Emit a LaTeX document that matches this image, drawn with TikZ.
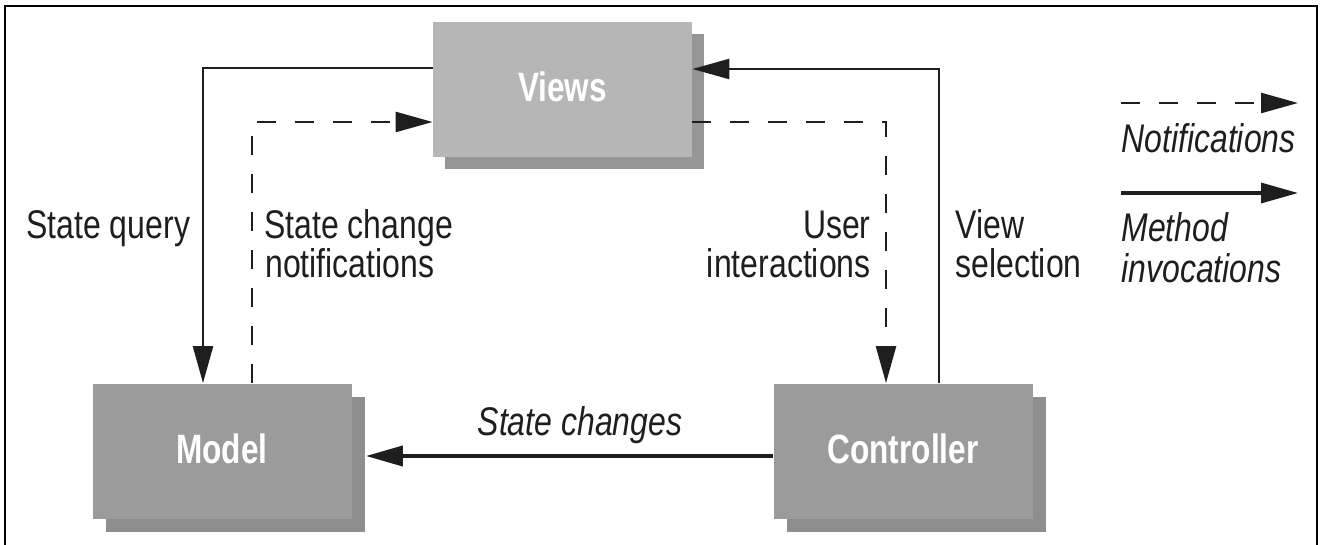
\documentclass[tikz,border=0pt]{standalone}
\usepackage{fontspec}
\setmainfont{Liberation Sans}[FakeStretch=0.8]
\newfontfamily\boxfont{Liberation Sans}[FakeStretch=0.77]
\usetikzlibrary{arrows.meta,shadows}
\definecolor{viewsfill}{HTML}{B6B6B6}
\definecolor{viewsshade}{HTML}{969696}
\definecolor{mainfill}{HTML}{9B9B9B}
\definecolor{mainshade}{HTML}{8E8E8E}
\definecolor{ink}{HTML}{1E1E1E}
\begin{document}
\begin{tikzpicture}[x=0.5pt,y=-0.5pt,
  box/.style={minimum width=129.5pt, minimum height=67.5pt, inner sep=0pt, draw=none,
    font=\boxfont\bfseries\fontsize{20.5}{20.5}\selectfont, text=white},
  lightbox/.style={box, fill=viewsfill,
    copy shadow={shadow xshift=6pt, shadow yshift=-6pt, fill=viewsshade, draw=none}},
  darkbox/.style={box, fill=mainfill,
    copy shadow={shadow xshift=6.5pt, shadow yshift=-6.5pt, fill=mainshade, draw=none}},
  lab/.style={font=\fontsize{20}{20}\selectfont, inner sep=0pt, text=ink},
  itlab/.style={lab, font=\fontsize{20}{20}\selectfont\itshape},
  method/.style={draw=ink, line width=1.25pt, -{Triangle[length=18.5pt,width=10pt]}},
  notif/.style={method, dash pattern=on 9.5pt off 9.5pt},
  frame/.style={draw=black, line width=1.3pt}
]
\useasboundingbox (0,0) rectangle (1322,545);

% frame (open at the bottom)
\coordinate (f1) at (5,548);
\coordinate (f2) at (5,6);
\coordinate (f3) at (1317,6);
\coordinate (f4) at (1317,548);
\draw[frame] (f1) -- (f2) -- (f3) -- (f4);

% boxes
\node[lightbox] (views) at (562.5,89.5) {\raisebox{2.5pt}{Views}};
\node[darkbox] (model) at (222,451) {\raisebox{2.5pt}{Model}};
\node[darkbox] (controller) at (903,451) {\raisebox{2.5pt}{Controller}};

% connectors
\draw[method] ([yshift=10.75pt]views.west) -| ([xshift=-9.5pt]model.north);
\draw[notif] ([xshift=15pt]model.north) |- ([yshift=-16.25pt]views.west);
\draw[notif] ([yshift=-16.25pt]views.east) -| ([xshift=-8.5pt]controller.north);
\draw[method] ([xshift=18pt]controller.north) |- ([yshift=10.25pt]views.east);
\draw[method, line width=2pt] ([yshift=-2.5pt]controller.west) -- ([xshift=7pt,yshift=-2.5pt]model.east);

% labels
\node[lab, anchor=base west] (sq) at (26,239) {State query};
\node[lab, anchor=base west] (scn1) at (264,239) {State change};
\node[lab, anchor=base west] (scn2) at (265,278) {notifications};
\node[lab, anchor=base east] (ui1) at (871,239) {User};
\node[lab, anchor=base east] (ui2) at (871,278) {interactions};
\node[lab, anchor=base west] (vs1) at (955,239) {View};
\node[lab, anchor=base west] (vs2) at (955,278) {selection};
\node[itlab, anchor=base] (sc) at (580,435) {State changes};

% legend
\coordinate (l1a) at (1121,103);
\coordinate (l1b) at (1298,103);
\coordinate (l2a) at (1121,193);
\coordinate (l2b) at (1298,193);
\draw[notif] (l1a) -- (l1b);
\draw[method, line width=1.6pt] (l2a) -- (l2b);
\node[itlab, anchor=base west] (ln) at (1121,153) {Notifications};
\node[itlab, anchor=base west] (lm1) at (1121,242) {Method};
\node[itlab, anchor=base west] (lm2) at (1121,283) {invocations};
\end{tikzpicture}
\end{document}
